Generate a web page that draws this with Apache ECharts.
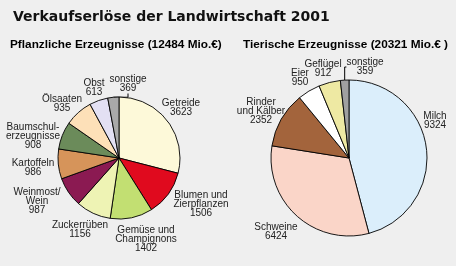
<!DOCTYPE html>
<html><head><meta charset="utf-8">
<script src="https://cdn.jsdelivr.net/npm/echarts@6/dist/echarts.min.js"></script>
<style>html,body{margin:0;padding:0;background:#efefef}#c{width:456px;height:266px}</style>
</head><body><div id="c"></div>
<script>
// Data
const plantNames = ['Getreide', 'Blumen und\nZierpflanzen', 'Gemüse und\nChampignons', 'Zuckerrüben', 'Weinmost/\nWein', 'Kartoffeln', 'Baumschul-\nerzeugnisse', 'Ölsaaten', 'Obst', 'sonstige'];
const plantValues = [3623, 1506, 1402, 1156, 987, 986, 908, 935, 613, 369];
const animalNames = ['Milch', 'Schweine', 'Rinder\nund Kälber', 'Eier', 'Geflügel', 'sonstige'];
const animalValues = [9324, 6424, 2352, 950, 912, 359];

// Styles / positions
const plantColors = ['#fdf9d9', '#e00a1e', '#c2df72', '#eef3b4', '#8b1a52', '#d6945a', '#6b8b5a', '#fde0b8', '#e3e0f3', '#a9a9a9'];
const animalColors = ['#dbeefb', '#fad5c8', '#a3643c', '#ffffff', '#eee9a3', '#a0a0a0'];
const plantLabelPos = [[181,108],[201,204],[146,239],[80,230],[37,201],[33,168],[33,136],[62,104],[94,88],[128,84]];
const animalLabelPos = [[435,121],[276,232],[261,111],[300,78],[323,69],[365,67]];

const chart = echarts.init(document.getElementById('c'));
const labelFont = {fontFamily: 'Liberation Sans', fontSize: 10, color: '#222', lineHeight: 9, align: 'center', verticalAlign: 'middle'};

function mk(names, vals, colors, pos, center, radius, leaderIdx) {
  return {
    type: 'pie', center: center, radius: radius, startAngle: 90, clockwise: true,
    animation: false, silent: true, avoidLabelOverlap: false,
    itemStyle: {borderColor: '#000', borderWidth: 0.9},
    label: Object.assign({show: true, formatter: '{b}\n{c}'}, labelFont),
    labelLine: {show: false},
    labelLayout: function (p) {
      const q = pos[p.dataIndex];
      return {x: q[0], y: q[1], align: 'center', verticalAlign: 'middle', hideOverlap: false};
    },
    data: names.map((n, i) => ({
      name: n, value: vals[i], itemStyle: {color: colors[i]},
      labelLine: i === leaderIdx ? {show: true, length: 4, length2: 4, lineStyle: {color: '#000', width: 1}} : {show: false}
    }))
  };
}

chart.setOption({
  backgroundColor: '#efefef',
  title: [
    {text: 'Verkaufserlöse der Landwirtschaft 2001', left: 8, top: 5, textStyle: {fontFamily: 'DejaVu Sans', fontWeight: 'bold', fontSize: 14, color: '#111'}},
    {text: 'Pflanzliche Erzeugnisse (12484 Mio.€)', left: 10, top: 39, padding: 0, textStyle: {fontFamily: 'Liberation Sans', fontWeight: 'bold', fontSize: 11.8, color: '#000'}},
    {text: 'Tierische Erzeugnisse (20321 Mio.€ )', left: 243, top: 39, padding: 0, textStyle: {fontFamily: 'Liberation Sans', fontWeight: 'bold', fontSize: 11.8, color: '#000'}}
  ],
  series: [
    mk(plantNames, plantValues, plantColors, plantLabelPos, [119, 158], 61, 9),
    mk(animalNames, animalValues, animalColors, animalLabelPos, [349, 158], 78, 5)
  ]
});
</script></body></html>
